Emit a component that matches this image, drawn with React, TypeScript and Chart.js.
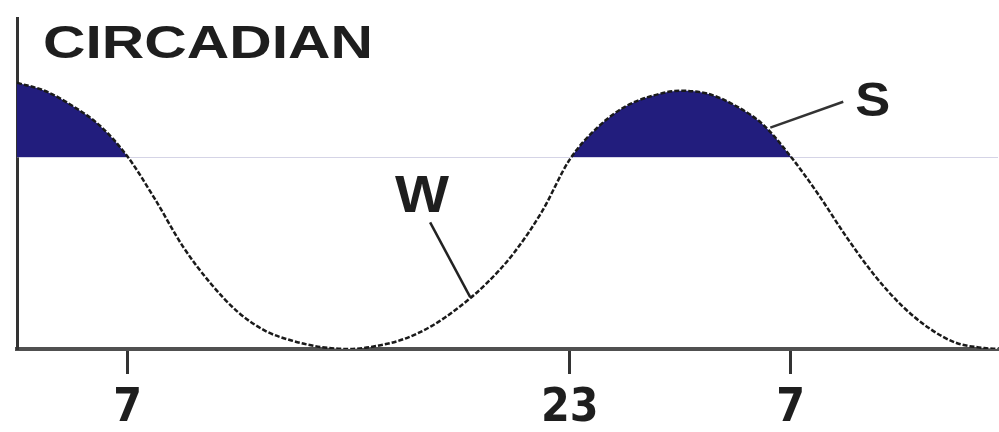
import React, { useEffect, useRef } from 'react';
import { Chart, registerables } from 'chart.js';

Chart.register(...registerables);

// Hour of day (continuing past midnight: 24 = 0h, 31 = 7h next day)
const hours = [3, 4, 5, 6, 7, 8, 9, 10, 11, 12, 13, 14, 15, 16, 17, 18, 19, 20, 21, 22, 23, 24, 25, 26, 27, 28, 29, 30, 31, 32, 33, 34, 35, 36, 37, 38, 38.5];
// Circadian sleep propensity (arbitrary units)
const circadian = [267, 259, 244, 224, 193, 150, 103, 66, 37, 18, 8, 2, 0, 3, 10, 23, 42, 66, 97, 138, 190, 222, 243, 254, 259, 256, 244, 225, 193, 155, 113, 75, 44, 21, 6, 1, 0];
const sleepThreshold = 192;
const tickHours = [7, 23, 31];
const tickLabels = ['7', '23', '7'];
const titleText = 'CIRCADIAN';
const wakeLabel = 'W';
const sleepLabel = 'S';

export default function App() {
  const ref = useRef<HTMLCanvasElement>(null);

  useEffect(() => {
    if (!ref.current) return;

    const drawStretched = (
      ctx: CanvasRenderingContext2D,
      text: string,
      font: string,
      left: number,
      baseline: number,
      width: number
    ) => {
      ctx.save();
      ctx.font = font;
      const w = ctx.measureText(text).width;
      ctx.translate(left, baseline);
      ctx.scale(width / w, 1);
      ctx.textAlign = 'left';
      ctx.textBaseline = 'alphabetic';
      ctx.fillStyle = '#1e1e1e';
      ctx.fillText(text, 0, 0);
      ctx.restore();
    };

    const annot = {
      id: 'annot',
      afterDatasetsDraw(chart: any) {
        const ctx: CanvasRenderingContext2D = chart.ctx;
        const xs = chart.scales.x;
        const ys = chart.scales.y;
        const px = (h: number) => xs.getPixelForValue(h);
        const py = (v: number) => ys.getPixelForValue(v);

        // pointer lines
        ctx.save();
        ctx.strokeStyle = '#222';
        ctx.lineWidth = 2.5;
        ctx.beginPath();
        ctx.moveTo(px(17.95), py(127));
        ctx.lineTo(px(19.4), py(52));
        ctx.stroke();
        ctx.strokeStyle = '#333';
        ctx.beginPath();
        ctx.moveTo(px(30.26), py(222));
        ctx.lineTo(px(32.9), py(248));
        ctx.stroke();
        ctx.restore();

        drawStretched(ctx, wakeLabel, 'bold 51px "Liberation Sans", Arial, sans-serif', px(16.68), py(137), 54);
        drawStretched(ctx, sleepLabel, 'bold 49px "Liberation Sans", Arial, sans-serif', px(33.33), py(234), 35);
        drawStretched(ctx, titleText, 'bold 47px "Liberation Sans", Arial, sans-serif', 43, 58, 330);
      },
    };

    const chart = new Chart(ref.current, {
      type: 'line',
      data: {
        datasets: [
          {
            data: hours.map((h, i) => ({ x: h, y: circadian[i] })),
            borderColor: '#1a1a1a',
            borderWidth: 2.5,
            borderDash: [5, 2],
            pointRadius: 0,
            cubicInterpolationMode: 'monotone',
            fill: { value: sleepThreshold, above: '#221d7d', below: '#ffffff' },
          } as any,
        ],
      },
      options: {
        animation: false,
        responsive: false,
        maintainAspectRatio: false,
        plugins: { legend: { display: false }, tooltip: { enabled: false }, title: { display: false } },
        layout: { padding: { top: 18, left: 17, right: 1, bottom: -12 } },
        scales: {
          x: {
            type: 'linear',
            min: 3,
            max: 38.5,
            afterBuildTicks: (s: any) => {
              s.ticks = tickHours.map((v) => ({ value: v }));
            },
            ticks: {
              autoSkip: false,
              maxRotation: 0,
              padding: 12,
              color: '#1e1e1e',
              font: { family: '"Liberation Sans Narrow", "DejaVu Sans Condensed", sans-serif', size: 46, weight: 'bold', lineHeight: 1 },
              callback: (v: any) => {
                const i = tickHours.indexOf(Number(v));
                return i >= 0 ? tickLabels[i] : '';
              },
            },
            grid: { drawOnChartArea: false, drawTicks: true, tickLength: 25, tickWidth: 3, tickColor: '#333' },
            border: { display: true, color: '#505050', width: 4 },
          },
          y: {
            min: 0,
            max: 332,
            ticks: { display: false },
            grid: { display: false, drawTicks: false },
            border: { display: true, color: '#333', width: 3 },
          },
        },
      } as any,
      plugins: [annot],
    });

    return () => chart.destroy();
  }, []);

  return (
    <div style={{ position: 'fixed', left: 0, top: 0, width: 999, height: 432, background: '#fff' }}>
      <canvas ref={ref} width={999} height={432} style={{ width: 999, height: 432, display: 'block' }} />
    </div>
  );
}
